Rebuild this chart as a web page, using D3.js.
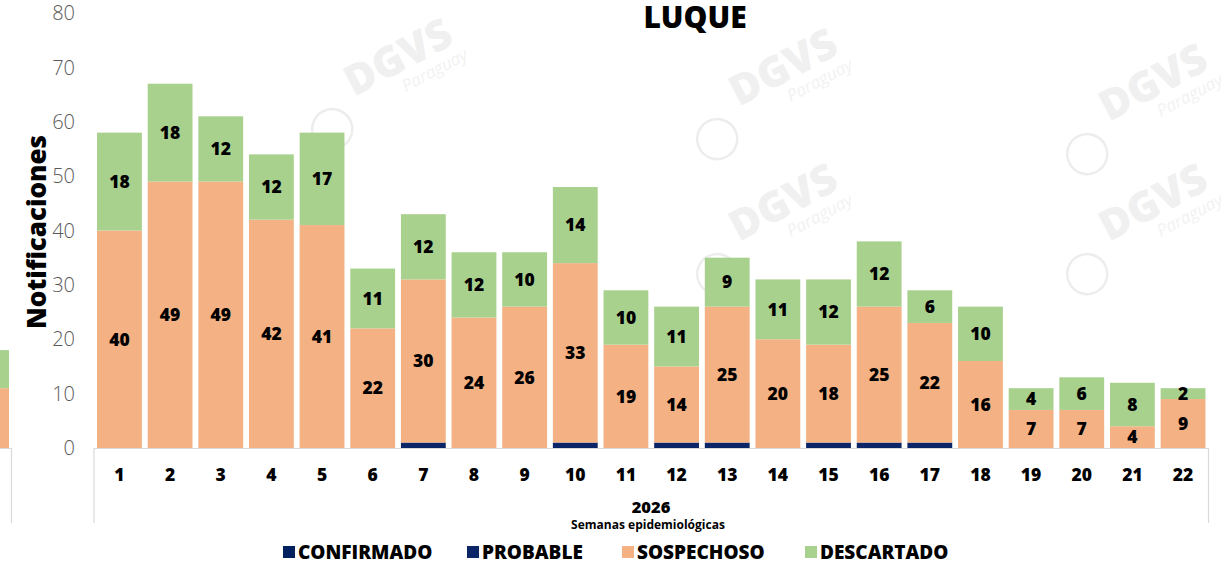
<!DOCTYPE html>
<html><head><meta charset="utf-8">
<script src="https://cdn.jsdelivr.net/npm/d3@7"></script>
<style>body{margin:0;background:#fff;}svg{display:block;font-family:"Open Sans","Noto Sans",sans-serif;}</style>
</head><body>
<svg id="chart" width="1230" height="564"></svg>
<script>
const weeks = ["1","2","3","4","5","6","7","8","9","10","11","12","13","14","15","16","17","18","19","20","21","22"];
const confirmado = [0,0,0,0,0,0,0,0,0,0,0,0,0,0,0,0,0,0,0,0,0,0];
const probable   = [0,0,0,0,0,0,1,0,0,1,0,1,1,0,1,1,1,0,0,0,0,0];
const sospechoso = [40,49,49,42,41,22,30,24,26,33,19,14,25,20,18,25,22,16,7,7,4,9];
const descartado = [18,18,12,12,17,11,12,12,10,14,10,11,9,11,12,12,6,10,4,6,8,2];
const yTicks = [0,10,20,30,40,50,60,70,80];
// neighbouring (cut-off) chart at the left edge
const prevSospechoso = [11];
const prevDescartado = [7];

const seriesNames = ["CONFIRMADO","PROBABLE","SOSPECHOSO","DESCARTADO"];
const colors = {CONFIRMADO:"#002060",PROBABLE:"#0b2566",SOSPECHOSO:"#F4B183",DESCARTADO:"#A9D18E"};

const svg = d3.select("#chart");
const y = d3.scaleLinear().domain([0,80]).range([448,13]);
const x = d3.scaleBand().domain(weeks).range([94,1208.5]).paddingInner(0.115).paddingOuter(0.06);

// faint watermarks (interior only)
const wm = svg.append("g").attr("fill","none");
[[405,70],[790,80],[1160,95],[790,215],[1160,215]].forEach(([wx,wy])=>{
  const g = wm.append("g").attr("transform",`translate(${wx},${wy}) rotate(-28)`);
  g.append("text").text("DGVS").attr("text-anchor","middle").attr("font-size",42).attr("font-weight",800)
    .attr("fill","#f0f0f0");
  g.append("text").text("Paraguay").attr("x",26).attr("y",20).attr("text-anchor","middle").attr("font-size",17)
    .attr("font-style","italic").attr("fill","#f2f2f2");
  g.append("circle").attr("cx",-92).attr("cy",18).attr("r",20).attr("stroke","#ededed").attr("stroke-width",2.5).attr("fill","none");
});

// left partial chart
svg.append("path").attr("d","M0,448.5H11.5V523").attr("stroke","#d9d9d9").attr("fill","none").attr("stroke-width",1.2);
svg.append("rect").attr("x",-30).attr("width",39).attr("y",y(prevSospechoso[0])).attr("height",y(0)-y(prevSospechoso[0])).attr("fill",colors.SOSPECHOSO);
svg.append("rect").attr("x",-30).attr("width",39).attr("y",y(prevSospechoso[0]+prevDescartado[0])).attr("height",y(0)-y(prevDescartado[0])).attr("fill",colors.DESCARTADO);

// axis frame
svg.append("path").attr("d",`M94,523V448.5H${x.range()[1]}V523`).attr("stroke","#d9d9d9").attr("fill","none").attr("stroke-width",1.2);

// y tick labels
svg.append("g").selectAll("text").data(yTicks).join("text")
  .attr("x",75).attr("y",d=>y(d)).attr("dy","0.36em").attr("text-anchor","end")
  .attr("font-size",20).attr("font-weight",300).attr("fill","#595959").text(d=>d);

// stacked bars
const rows = weeks.map((w,i)=>({week:w,CONFIRMADO:confirmado[i],PROBABLE:probable[i],SOSPECHOSO:sospechoso[i],DESCARTADO:descartado[i]}));
const stack = d3.stack().keys(seriesNames)(rows);
const layers = svg.append("g").selectAll("g").data(stack).join("g").attr("fill",d=>colors[d.key]);
layers.selectAll("rect").data(d=>d).join("rect")
  .attr("x",d=>x(d.data.week)).attr("width",x.bandwidth())
  .attr("y",d=>y(d[1])).attr("height",d=>y(d[0])-y(d[1]));

// value labels (sospechoso, descartado)
["SOSPECHOSO","DESCARTADO"].forEach(k=>{
  const layer = stack.find(s=>s.key===k);
  svg.append("g").selectAll("text").data(layer.filter(d=>d[1]-d[0]>0)).join("text")
    .attr("x",d=>x(d.data.week)+x.bandwidth()/2).attr("y",d=>y((d[0]+d[1])/2)).attr("dy","0.36em")
    .attr("text-anchor","middle").attr("font-size",17.5).attr("font-weight",800).attr("fill","#000")
    .text(d=>d[1]-d[0]);
});

// x tick labels
svg.append("g").selectAll("text").data(weeks).join("text")
  .attr("x",d=>x(d)+x.bandwidth()/2).attr("y",475).attr("dy","0.36em").attr("text-anchor","middle")
  .attr("font-size",17.5).attr("font-weight",800).attr("fill","#000").text(d=>d);

svg.append("text").attr("x",651).attr("y",507).attr("dy","0.36em").attr("text-anchor","middle")
  .attr("font-size",16.5).attr("font-weight",800).text("2026");
svg.append("text").attr("x",648).attr("y",525).attr("dy","0.36em").attr("text-anchor","middle")
  .attr("font-size",12).attr("font-weight",700).text("Semanas epidemiológicas");

// y axis title
svg.append("text").attr("transform","translate(37,232) rotate(-90)").attr("dy","0.36em").attr("text-anchor","middle")
  .attr("font-size",26).attr("font-weight",800).text("Notificaciones");

// title
svg.append("text").attr("x",695).attr("y",28).attr("text-anchor","middle")
  .attr("font-size",30).attr("font-weight",800).text("LUQUE");

// legend
const legX = [283,467,622,805];
const leg = svg.append("g").selectAll("g").data(seriesNames).join("g")
  .attr("transform",(d,i)=>`translate(${legX[i]},552)`);
leg.append("rect").attr("x",0).attr("y",-6).attr("width",12).attr("height",12).attr("fill",d=>colors[d]);
leg.append("text").attr("x",15).attr("dy","0.36em").attr("font-size",19).attr("font-weight",800).text(d=>d);
</script>
</body></html>
